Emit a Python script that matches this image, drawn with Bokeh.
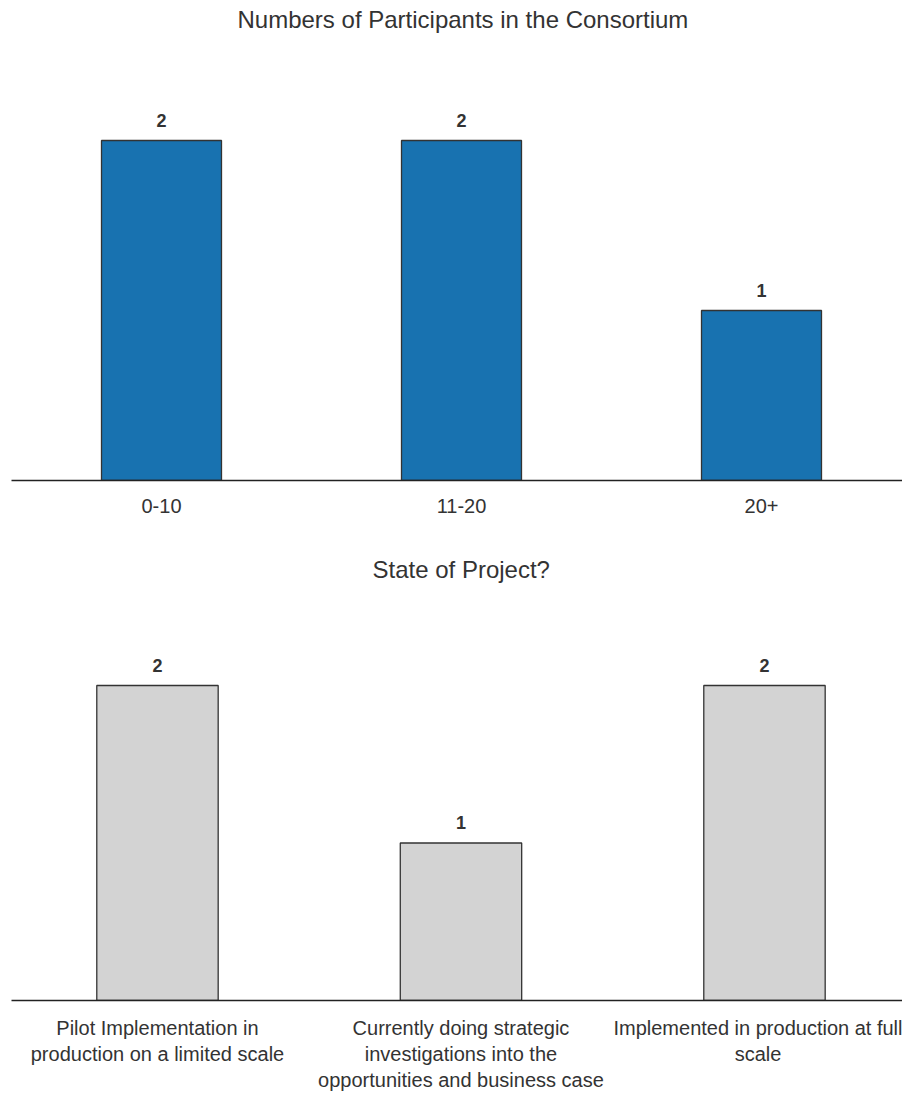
from bokeh.plotting import figure
from bokeh.models import Range1d, FixedTicker, ColumnDataSource
from bokeh.layouts import column
from bokeh.core.properties import value
from bokeh.embed import file_html
from bokeh.resources import INLINE

# ---- data ----
title1 = "Numbers of Participants in the Consortium"
cats1 = ["0-10", "11-20", "20+"]
vals1 = [2, 2, 1]

title2 = "State of Project?"
cats2 = [
    "Pilot Implementation in\nproduction on a limited scale",
    "Currently doing strategic\ninvestigations into the\nopportunities and business case",
    "Implemented in production at full\nscale",
]
vals2 = [2, 1, 2]

FONT = "Liberation Sans"
TXT = "#333333"


def make_chart(title, cats, vals, color, height, x_start, unit_px, y_end,
               border_top, border_bottom, title_offset, label_standoff):
    xs = [i + 0.5 for i in range(len(cats))]
    src = ColumnDataSource(dict(x=xs, top=vals, lab=[str(v) for v in vals]))
    p = figure(width=902, height=height, output_backend="svg", toolbar_location=None,
               x_range=Range1d(x_start, x_start + 891.0 / unit_px), y_range=Range1d(0, y_end),
               y_axis_location=None, title=title,
               min_border_left=11, min_border_right=0,
               min_border_top=border_top, min_border_bottom=border_bottom)
    p.vbar(x="x", top="top", width=0.4, bottom=0, source=src,
           fill_color=color, line_color="#333333", line_width=1.3)
    p.text(x="x", y="top", text="lab", source=src, text_align="center",
           text_baseline="bottom", y_offset=-14, text_font=value(FONT),
           text_font_style="bold", text_font_size="18px", text_color=TXT)
    p.title.align = "left"
    p.title.offset = title_offset
    p.title.standoff = 6
    p.title.text_font = FONT
    p.title.text_font_style = "normal"
    p.title.text_font_size = "24px"
    p.title.text_color = TXT
    ax = p.xaxis[0]
    ax.ticker = FixedTicker(ticks=xs)
    ax.major_label_overrides = {x: c for x, c in zip(xs, cats)}
    ax.major_tick_line_color = None
    ax.minor_tick_line_color = None
    ax.axis_line_color = "#222222"
    ax.axis_line_width = 1.5
    ax.major_label_text_font = FONT
    ax.major_label_text_font_size = "20px"
    ax.major_label_text_color = TXT
    ax.major_label_standoff = label_standoff
    p.xgrid.visible = False
    p.ygrid.visible = False
    p.outline_line_color = None
    p.background_fill_color = "white"
    p.border_fill_color = "white"
    return p


p1 = make_chart(title1, cats1, vals1, "#1872B0", 542, 0.0, 300.0, (480 - 35) / 170.0,
                35, 62, 226, 12)
p2 = make_chart(title2, cats2, vals2, "#D3D3D3", 552, 0.019, 303.5, (1000 - 585) / 157.5,
                43, 94, 361, 10)

layout = column(p1, p2, spacing=0)
open("out.html", "w").write(file_html(layout, INLINE))
